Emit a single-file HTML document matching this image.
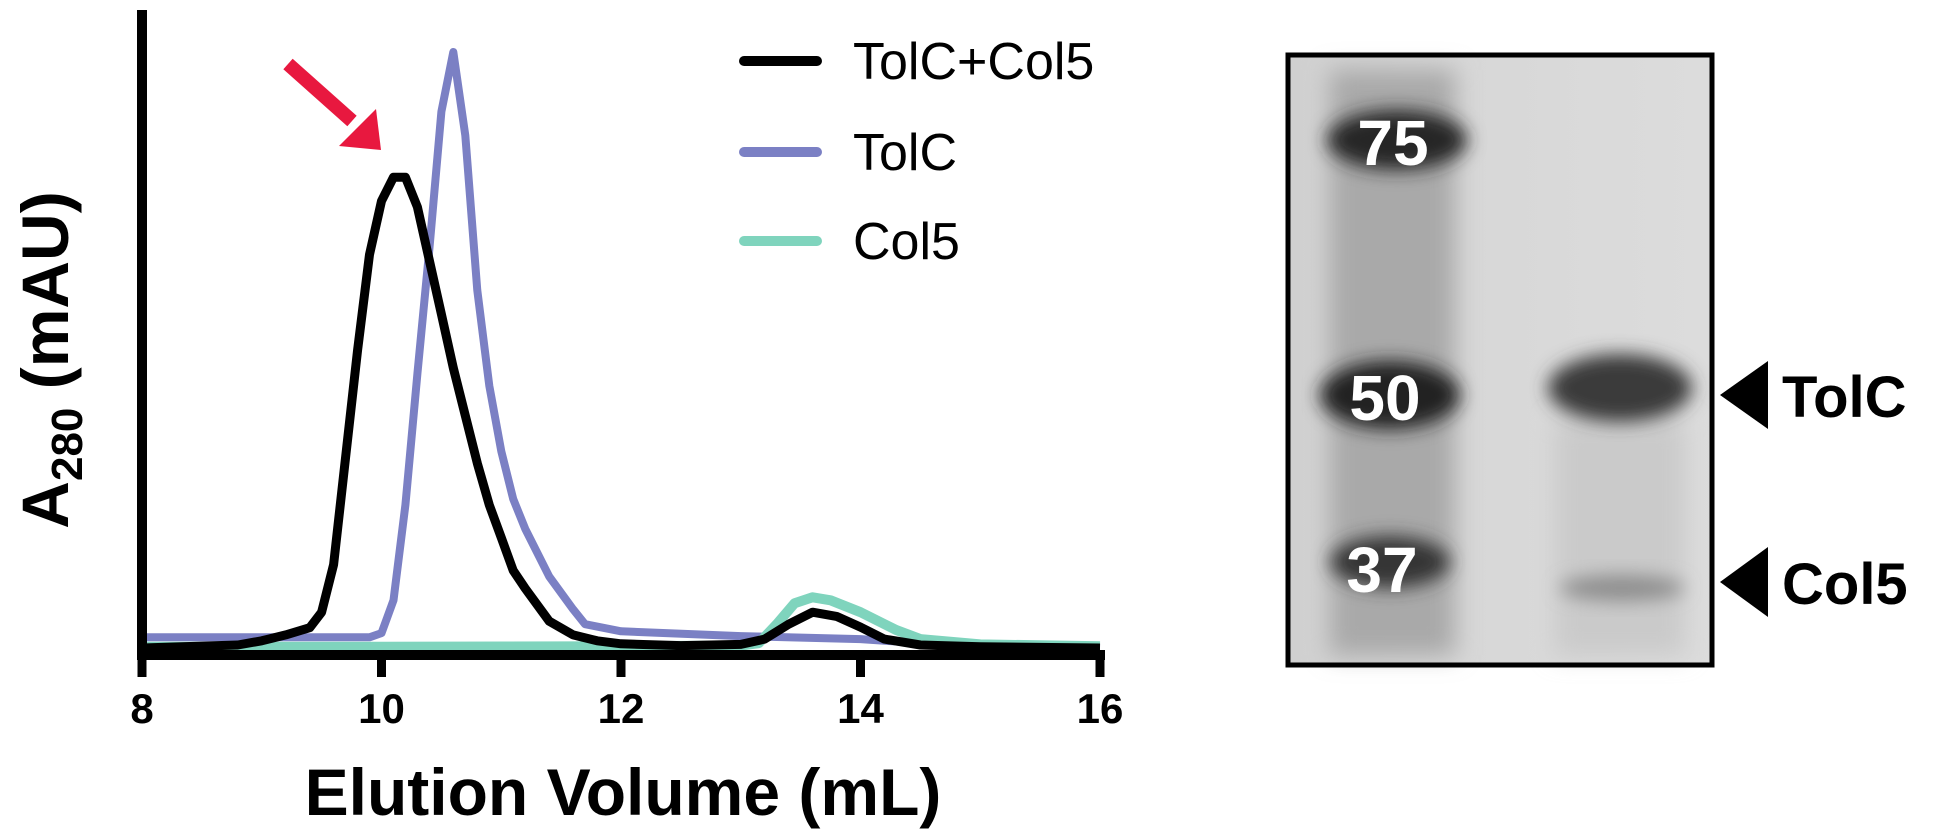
<!DOCTYPE html>
<html><head><meta charset="utf-8">
<style>
html,body{margin:0;padding:0;background:#fff;}
svg{display:block;font-family:"Liberation Sans",Arial,sans-serif;}
</style></head>
<body>
<svg id="fig" width="1950" height="839" viewBox="0 0 1950 839">
<defs>
<filter id="blur" x="-30%" y="-60%" width="160%" height="220%"><feGaussianBlur stdDeviation="9"/></filter>
<filter id="blur2" x="-30%" y="-30%" width="160%" height="160%"><feGaussianBlur stdDeviation="12"/></filter>
<linearGradient id="gelbg" x1="0" x2="1" y1="0" y2="0">
<stop offset="0" stop-color="#d0d0d0"/><stop offset="0.5" stop-color="#d8d8d8"/><stop offset="1" stop-color="#dcdcdc"/>
</linearGradient>
</defs>
<g id="chart"></g>
<g id="gel">
  <rect x="1288" y="55" width="424" height="610" fill="url(#gelbg)"/>
  <rect x="1330" y="70" width="125" height="585" fill="#a9a9a9" filter="url(#blur2)"/>
  <rect x="1555" y="420" width="130" height="235" fill="#cacaca" filter="url(#blur2)"/>
  <ellipse cx="1397" cy="140" rx="70" ry="30" fill="#252525" filter="url(#blur)"/>
  <ellipse cx="1390" cy="395" rx="70" ry="34" fill="#222" filter="url(#blur)"/>
  <ellipse cx="1390" cy="562" rx="60" ry="26" fill="#363636" filter="url(#blur)"/>
  <ellipse cx="1620" cy="388" rx="72" ry="34" fill="#3a3a3a" filter="url(#blur)"/>
  <ellipse cx="1622" cy="588" rx="62" ry="13" fill="#8e8e8e" filter="url(#blur)"/>
  <rect x="1288" y="55" width="424" height="610" fill="none" stroke="#000" stroke-width="5"/>
  <text x="1393" y="165" font-size="64" font-weight="bold" fill="#fff" text-anchor="middle">75</text>
  <text x="1385" y="420" font-size="64" font-weight="bold" fill="#fff" text-anchor="middle">50</text>
  <text x="1382" y="592" font-size="64" font-weight="bold" fill="#fff" text-anchor="middle">37</text>
  <polygon points="1720,395 1768,361 1768,429" fill="#000"/>
  <text x="1782" y="417" font-size="58" font-weight="bold">TolC</text>
  <polygon points="1720,582 1768,547 1768,617" fill="#000"/>
  <text x="1782" y="604" font-size="58" font-weight="bold">Col5</text>
</g>
</svg>
<script>
const xTicks = [8, 10, 12, 14, 16];
const seriesNames = ["TolC+Col5", "TolC", "Col5"];
const blackX = [8,8.8,9.0,9.2,9.4,9.5,9.6,9.7,9.8,9.9,10.0,10.1,10.2,10.3,10.4,10.5,10.6,10.7,10.8,10.9,11.0,11.1,11.2,11.4,11.6,11.8,12,12.5,13,13.2,13.4,13.6,13.8,14,14.2,14.5,15,16];
const blackY = [0,0.5,1.2,2.2,3.4,6,14,32,50,66,75,79,79,74,65,56,47,39,31,24,18.5,13,10,4.5,2.2,1.2,0.7,0.4,0.6,1.5,4,6,5.3,3.5,1.5,0.5,0.2,0];
const blueX = [8,9.9,10.0,10.1,10.2,10.3,10.4,10.5,10.6,10.7,10.8,10.9,11.0,11.1,11.2,11.4,11.6,11.7,12,13,14,14.5,15,16];
const blueY = [1.8,1.8,2.5,8,24,46,67,90,100,86,60,44,33,25,20,12,6.5,4,2.8,2,1.5,0.8,0.3,0];
const greenX = [8,10,12,13,13.15,13.3,13.45,13.6,13.75,14,14.3,14.5,15,16];
const greenY = [0.2,0.2,0.3,0.4,0.8,4,7.5,8.5,8,6,3,1.5,0.6,0.3];

const X0=142, X1=1100, Y0=648, YTOP=52, AXY=655;
const sx = v => X0 + (v-8)/(16-8)*(X1-X0);
const sy = v => Y0 - v/100*(Y0-YTOP);
const NS="http://www.w3.org/2000/svg";
const g=document.getElementById('chart');
function mk(tag, attrs, parent){const e=document.createElementNS(NS,tag);for(const k in attrs)e.setAttribute(k,attrs[k]);(parent||g).appendChild(e);return e;}
function path(xs,ys){let d="";xs.forEach((x,i)=>{d+=(i?"L":"M")+sx(x).toFixed(1)+","+sy(ys[i]).toFixed(1);});return d;}

const pb=mk('path',{d:path(blueX,blueY),fill:'none',stroke:'#7b80c4','stroke-width':8,'stroke-linejoin':'round'});


const pg=mk('path',{d:path(greenX,greenY),fill:'none',stroke:'#7fd4bd','stroke-width':10,'stroke-linejoin':'round'});


const pk=mk('path',{d:path(blackX,blackY),fill:'none',stroke:'#000','stroke-width':9,'stroke-linejoin':'round'});



const ya=mk('line',{x1:X0,y1:10,x2:X0,y2:AXY+5,stroke:'#000','stroke-width':10});


const xa=mk('line',{x1:X0-5,y1:AXY,x2:X1+5,y2:AXY,stroke:'#000','stroke-width':10});


xTicks.forEach(t=>{
  const tk=mk('line',{x1:sx(t),y1:AXY,x2:sx(t),y2:677,stroke:'#000','stroke-width':9});
  
  
  const tl=mk('text',{x:sx(t),y:723,'font-size':42,'font-weight':'bold','text-anchor':'middle'});
  tl.textContent=t;
  
  
});
const xt=mk('text',{x:623,y:815,'font-size':66,'font-weight':'bold','text-anchor':'middle'});
xt.textContent='Elution Volume (mL)';


const yt=mk('text',{transform:'translate(68,360) rotate(-90)','font-size':66,'font-weight':'bold','text-anchor':'middle'});
yt.innerHTML='A<tspan font-size="44" dy="14">280</tspan><tspan dy="-14"> (mAU)</tspan>';



const colors=['#000','#7b80c4','#7fd4bd'];
const ly=[61,152,241];
seriesNames.forEach((n,i)=>{
  const ll=mk('line',{x1:744,y1:ly[i],x2:817,y2:ly[i],stroke:colors[i],'stroke-width':10,'stroke-linecap':'round'});
  
  
  const lt=mk('text',{x:853,y:ly[i]+18,'font-size':52});
  lt.textContent=n;
  
  
});
const ar=mk('line',{x1:288,y1:64,x2:352,y2:121,stroke:'#e8183f','stroke-width':14});


const ah=mk('polygon',{points:'381,150 339,146 376,109',fill:'#e8183f'});


</script>
</body></html>
